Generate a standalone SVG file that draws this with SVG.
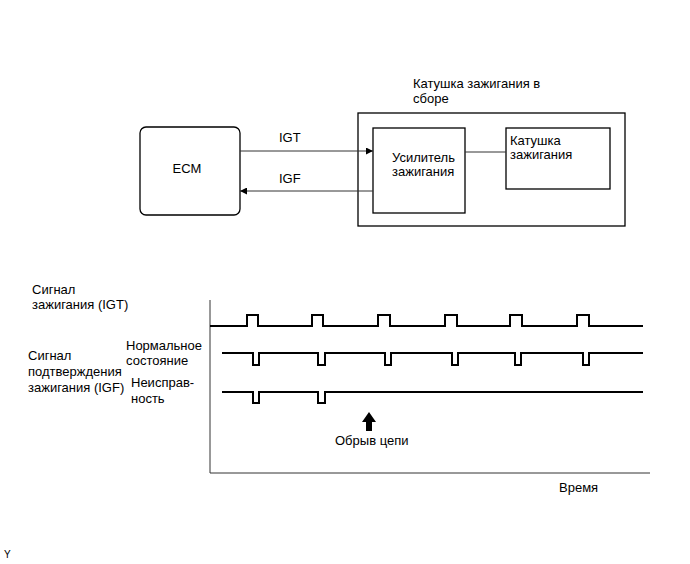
<svg xmlns="http://www.w3.org/2000/svg" width="690" height="564" viewBox="0 0 690 564">
<style>
text{font-family:"Liberation Sans",Arial,sans-serif;font-size:13px;fill:#000}
.box{fill:#fff;stroke:#000;stroke-width:1.3}
.conn{stroke:#333;stroke-width:1;fill:none}
.sig{stroke:#000;stroke-width:2;fill:none}
.axis{stroke:#333;stroke-width:1;fill:none}
</style>
<defs>
<marker id="ah" viewBox="0 0 10 10" refX="10" refY="5" markerWidth="8" markerHeight="7" markerUnits="userSpaceOnUse" orient="auto">
<path d="M0,0 L10,5 L0,10 z" fill="#000"/>
</marker>
</defs>
<rect width="690" height="564" fill="#fff"/>
<g id="assembly">
<rect class="box" x="358" y="113" width="267" height="113"/>
<text x="413" y="88">Катушка зажигания в</text>
<text x="413" y="103">сборе</text>
</g>
<g id="ecm">
<rect class="box" x="140" y="127" width="100" height="88" rx="6"/>
<text x="187" y="173" text-anchor="middle">ECM</text>
</g>
<g id="amp">
<rect class="box" x="373" y="128" width="92" height="85"/>
<text x="392" y="162">Усилитель</text>
<text x="392" y="176">зажигания</text>
</g>
<g id="coil">
<rect class="box" x="506" y="128" width="104" height="61"/>
<text x="510" y="145">Катушка</text>
<text x="510" y="159">зажигания</text>
</g>
<g id="connectors">
<line class="conn" x1="240" y1="151" x2="373" y2="151" marker-end="url(#ah)"/>
<line class="conn" x1="373" y1="191" x2="240" y2="191" marker-end="url(#ah)"/>
<line class="conn" x1="465" y1="152" x2="506" y2="152"/>
<text x="279" y="142">IGT</text>
<text x="279" y="183">IGF</text>
</g>
<g id="chart">
<polyline class="axis" points="210,300 210,473 650,473"/>
<path class="sig" d="M210,326 H247 V315 H258 V326 H312 V315 H323 V326 H378 V315 H390 V326 H445 V315 H457 V326 H510 V315 H522 V326 H577 V315 H589 V326 H643"/>
<path class="sig" d="M222,353 H253 V365 H259 V353 H318 V365 H325 V353 H385 V365 H391 V353 H452 V365 H458 V353 H515 V365 H521 V353 H583 V365 H589 V353 H643"/>
<path class="sig" d="M222,392 H253 V403 H259 V392 H318 V403 H325 V392 H643"/>
<path d="M369,412 L376,422 L372,422 L372,431 L366,431 L366,422 L362,422 z" fill="#000"/>
<text x="335" y="445">Обрыв цепи</text>
<text x="559" y="492">Время</text>
<text x="32" y="294">Сигнал</text>
<text x="32" y="309">зажигания (IGT)</text>
<text x="126" y="350">Нормальное</text>
<text x="126" y="365">состояние</text>
<text x="28" y="360">Сигнал</text>
<text x="28" y="376">подтверждения</text>
<text x="28" y="392">зажигания (IGF)</text>
<text x="131" y="387">Неисправ-</text>
<text x="131" y="403">ность</text>
</g>
<text x="4" y="558" style="font-size:10px">Y</text>
</svg>
